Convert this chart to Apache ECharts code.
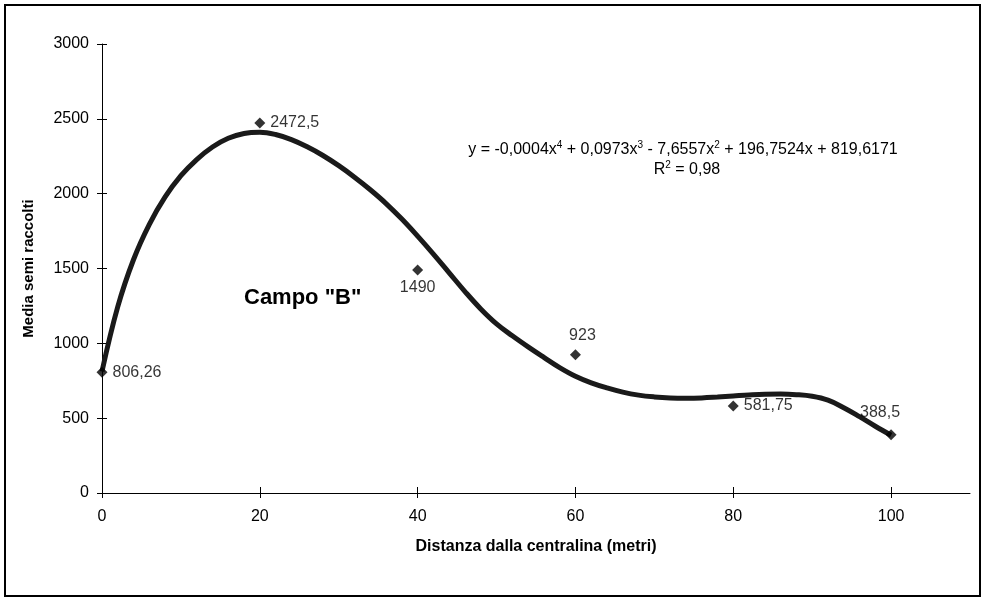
<!DOCTYPE html>
<html>
<head>
<meta charset="utf-8">
<script src="https://cdn.jsdelivr.net/npm/echarts@6/dist/echarts.min.js"></script>
<style>
  html, body { margin: 0; padding: 0; background: #fff; }
  #chart { width: 983px; height: 598px; }
</style>
</head>
<body>
<div id="chart"></div>
<script>
// punti misurati (distanza, media semi)
var distanze = [0, 20, 40, 60, 80, 100];
var mediaSemi = [806.26, 2472.5, 1490, 923, 581.75, 388.5];
var etichette = ["806,26", "2472,5", "1490", "923", "581,75", "388,5"];

// linea di tendenza
var trendX = [0, 2, 4, 6, 8, 10, 12, 14, 16, 18, 20, 22, 24, 26, 28, 30, 32, 34, 36, 38, 40,
  42, 44, 46, 48, 50, 52, 54, 56, 58, 60, 62, 64, 66, 68, 70, 72, 74, 76, 78, 80,
  82, 84, 86, 88, 90, 92, 94, 96, 98, 100];
var trendY = [812, 1245, 1560, 1795, 1978, 2120, 2228, 2312, 2370, 2402, 2410, 2395, 2361, 2313, 2255, 2187, 2110, 2026, 1934, 1830, 1716,
  1596, 1471, 1346, 1230, 1130, 1050, 976, 906, 838, 780, 736, 702, 674, 654, 642, 635, 633, 635, 641, 648,
  655, 660, 661, 657, 646, 620, 570, 510, 446, 386];

var xTicks = [0, 20, 40, 60, 80, 100];

var font = "Liberation Sans, Arial, sans-serif";

var chart = echarts.init(document.getElementById("chart"));

var puntiData = distanze.map(function (d, i) { return [d, mediaSemi[i]]; });
var trendData = trendX.map(function (d, i) { return [d, trendY[i]]; });

// posizione di ogni etichetta
var labelPos = [
  { position: "right", distance: 5 },
  { position: "right", distance: 5 },
  { position: "bottom", distance: 4 },
  { position: "top", distance: 6, offset: [7, 0] },
  { position: "right", distance: 5 },
  { position: "top", distance: 9, offset: [-11, 0] }
];

var supText = {
  n: { fontFamily: font, fontSize: 16, lineHeight: 20, fill: "#000" },
  s: { fontFamily: font, fontSize: 10, lineHeight: 10, verticalAlign: "top", fill: "#000" }
};

var option = {
  backgroundColor: "#fff",
  animation: false,
  grid: { left: 102, right: 13, top: 44, bottom: 105 },
  xAxis: [
    {
      type: "value",
      min: 0,
      max: 110,
      interval: 20,
      name: "Distanza dalla centralina (metri)",
      nameLocation: "middle",
      nameGap: 46,
      nameTextStyle: { color: "#000", fontFamily: font, fontSize: 16, fontWeight: "bold" },
      axisLine: { lineStyle: { color: "#000", width: 1 } },
      axisTick: { length: 5, lineStyle: { color: "#000" }, customValues: xTicks },
      axisLabel: { color: "#000", fontFamily: font, fontSize: 16, margin: 16, customValues: xTicks },
      splitLine: { show: false }
    },
    {
      // tacche interne
      type: "value",
      position: "bottom",
      min: 0,
      max: 110,
      interval: 20,
      axisLine: { show: false },
      axisTick: { inside: true, length: 6, lineStyle: { color: "#000" }, customValues: xTicks },
      axisLabel: { show: false },
      splitLine: { show: false }
    }
  ],
  yAxis: [
    {
      type: "value",
      min: 0,
      max: 3000,
      interval: 500,
      name: "Media semi raccolti",
      nameLocation: "middle",
      nameGap: 66,
      nameTextStyle: { color: "#000", fontFamily: font, fontSize: 15, fontWeight: "bold" },
      axisLine: { show: true, lineStyle: { color: "#000", width: 1 } },
      axisTick: { show: true, length: 5, lineStyle: { color: "#000" } },
      axisLabel: {
        color: "#000", fontFamily: font, fontSize: 16, margin: 13,
        formatter: function (v) { return String(v); }
      },
      splitLine: { show: false }
    },
    {
      type: "value",
      position: "left",
      min: 0,
      max: 3000,
      interval: 500,
      axisLine: { show: false },
      axisTick: { show: true, inside: true, length: 5, lineStyle: { color: "#000" } },
      axisLabel: { show: false },
      splitLine: { show: false }
    }
  ],
  graphic: [
    {
      type: "rect",
      shape: { x: 5, y: 5, width: 975, height: 591 },
      style: { fill: "none", stroke: "#000", lineWidth: 2 },
      silent: true
    },
    {
      type: "text",
      left: 244,
      top: 287,
      style: { text: 'Campo "B"', fill: "#000", font: "bold 22px " + font }
    },
    {
      type: "text",
      x: 683,
      y: 150,
      style: {
        text: "{n|y = -0,0004x}{s|4}{n| + 0,0973x}{s|3}{n| - 7,6557x}{s|2}{n| + 196,7524x + 819,6171}",
        align: "center",
        verticalAlign: "middle",
        fill: "#000",
        rich: supText
      }
    },
    {
      type: "text",
      x: 687,
      y: 170,
      style: {
        text: "{n|R}{s|2}{n| = 0,98}",
        align: "center",
        verticalAlign: "middle",
        fill: "#000",
        rich: supText
      }
    }
  ],
  series: [
    {
      name: "tendenza",
      type: "line",
      data: trendData,
      smooth: 0.4,
      showSymbol: false,
      lineStyle: { color: "#1a1a1a", width: 5 },
      z: 2
    },
    {
      name: "Campo B",
      type: "scatter",
      symbol: "diamond",
      symbolSize: 11,
      itemStyle: { color: "#000" },
      data: puntiData.map(function (p, i) {
        return {
          value: p,
          label: Object.assign({
            show: true,
            formatter: etichette[i],
            color: "#000",
            fontFamily: font,
            fontSize: 16
          }, labelPos[i])
        };
      }),
      z: 3
    }
  ]
};

chart.setOption(option);
</script>
</body>
</html>
